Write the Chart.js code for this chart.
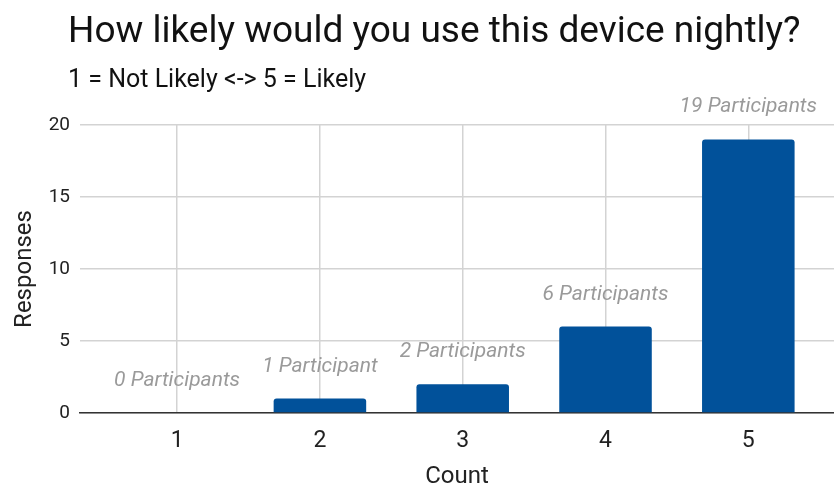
<!DOCTYPE html>
<html>
<head>
<meta charset="utf-8">
<script src="https://cdn.jsdelivr.net/npm/chart.js@4"></script>
<style>
  body { margin: 0; background: #fff; }
  canvas { display: block; }
</style>
</head>
<body>
<canvas id="chart" width="834" height="489"></canvas>
<script>
const titleText = 'How likely would you use this device nightly?';
const subtitleText = '1 = Not Likely <-> 5 = Likely';

const categories = [1, 2, 3, 4, 5]; // rating scale
const responses = [0, 1, 2, 6, 19]; // participants per rating
const yTicks = [0, 5, 10, 15, 20];

const barColor = '#01519a';
const gridColor = '#d3d3d3';

// bar label text comes straight from the value
function participantLabel(v) {
    return v + (v === 1 ? ' Participant' : ' Participants');
}

// title + subtitle drawn left aligned above the plot
const headerPlugin = {
    id: 'header',
    afterDraw(chart) {
        const ctx = chart.ctx;
        ctx.save();
        ctx.textAlign = 'left';
        ctx.textBaseline = 'alphabetic';
        ctx.fillStyle = '#111';
        ctx.font = '37px Roboto';
        ctx.fillText(titleText, 68, 42);
        ctx.font = '25px Roboto';
        ctx.fillText(subtitleText, 68, 87);
        ctx.restore();
    }
};

// italic grey count label over every bar
const barLabelPlugin = {
    id: 'barLabels',
    afterDatasetsDraw(chart) {
        const ctx = chart.ctx;
        const meta = chart.getDatasetMeta(0);
        ctx.save();
        ctx.font = 'italic 21px Roboto';
        ctx.fillStyle = '#9a9a9a';
        ctx.textAlign = 'center';
        ctx.textBaseline = 'alphabetic';
        meta.data.forEach((bar, i) => {
            ctx.fillText(participantLabel(responses[i]), bar.x, bar.y - 27);
        });
        ctx.restore();
    }
};

const ctx = document.getElementById('chart').getContext('2d');

const chart = new Chart(ctx, {
    type: 'bar',
    data: {
        datasets: [{
            data: categories.map((c, i) => ({ x: c, y: responses[i] })),
            backgroundColor: barColor,
            borderRadius: { topLeft: 3, topRight: 3 },
            borderSkipped: 'bottom',
            categoryPercentage: 0.81,
            barPercentage: 0.8
        }]
    },
    options: {
        responsive: false,
        animation: false,
        layout: { padding: { top: 125, left: 0, right: 0, bottom: 0 } },
        plugins: {
            legend: { display: false },
            tooltip: { enabled: false }
        },
        scales: {
            x: {
                type: 'linear',
                offset: false,
                min: 0.32,
                max: 5.6,
                afterBuildTicks(scale) {
                    scale.ticks = categories.map(v => ({ value: v }));
                },
                afterFit(scale) { scale.height = 76; },
                ticks: {
                    color: '#222',
                    font: { family: 'Roboto', size: 23 },
                    padding: 14,
                    autoSkip: false,
                    maxRotation: 0
                },
                grid: { offset: false, color: gridColor, lineWidth: 1.5, drawTicks: false },
                border: { display: true, color: '#333', width: 1.5 },
                title: {
                    display: true,
                    text: 'Count',
                    color: '#222',
                    font: { family: 'Roboto', size: 24, lineHeight: 1 },
                    padding: { top: 0, bottom: 0 }
                }
            },
            y: {
                min: 0,
                max: 20,
                afterBuildTicks(scale) {
                    scale.ticks = yTicks.map(v => ({ value: v }));
                },
                afterFit(scale) { scale.width = 80; },
                ticks: {
                    color: '#222',
                    font: { family: 'Roboto', size: 19 },
                    padding: 10
                },
                grid: { color: gridColor, lineWidth: 1.5, drawTicks: false },
                border: { display: false },
                title: {
                    display: true,
                    text: 'Responses',
                    color: '#222',
                    font: { family: 'Roboto', size: 24, lineHeight: 1 },
                    padding: { top: 13, bottom: 0 }
                }
            }
        }
    },
    plugins: [headerPlugin, barLabelPlugin]
});
</script>
</body>
</html>
